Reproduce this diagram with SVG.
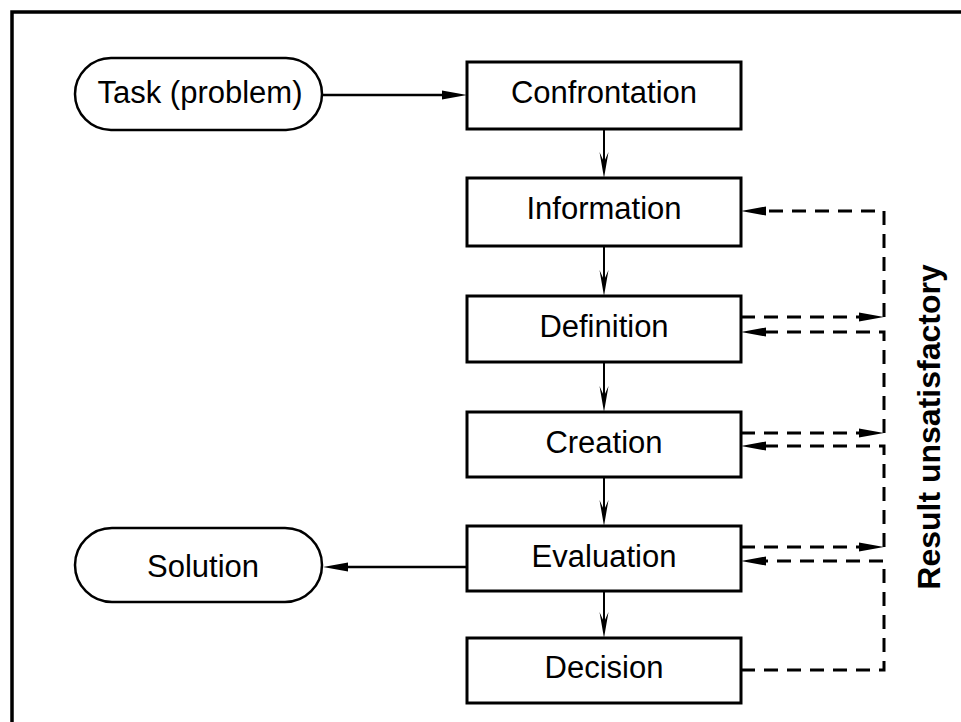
<svg xmlns="http://www.w3.org/2000/svg" width="961" height="722" viewBox="0 0 961 722">
<style>
.box{fill:#fff;stroke:#000;stroke-width:3}
.stad{fill:#fff;stroke:#000;stroke-width:2.5}
.lbl{font-family:"Liberation Sans",Arial,sans-serif;font-size:31px;fill:#000;text-anchor:middle}
.side{font-family:"Liberation Sans",Arial,sans-serif;font-size:32px;font-weight:bold;fill:#000;text-anchor:middle}
.solid{fill:none;stroke:#000;stroke-width:2.5}
.vert{fill:none;stroke:#000;stroke-width:2}
.dash{fill:none;stroke:#000;stroke-width:3;stroke-dasharray:14 9}
</style>
<defs>
<marker id="tri" markerUnits="userSpaceOnUse" markerWidth="28" markerHeight="12" viewBox="-27 -6 28 12" refX="-20" refY="0" orient="auto">
<path d="M0,0 L-25,-4.5 L-25,4.5 Z" fill="#000"/>
</marker>
<marker id="barb" markerUnits="userSpaceOnUse" markerWidth="28" markerHeight="12" viewBox="-27 -6 28 12" refX="-16" refY="0" orient="auto">
<path d="M0,0 L-26,-4.5 L-16,0 L-26,4.5 Z" fill="#000"/>
</marker>
</defs>
<rect width="961" height="722" fill="#fff"/>
<path d="M12,722 V12 H961" fill="none" stroke="#000" stroke-width="3.5"/>
<g id="connectors">
<path class="solid" d="M322,95 H447" marker-end="url(#tri)"/>
<path class="solid" d="M467,567 H343" marker-end="url(#tri)"/>
<path class="vert" d="M604,129 V162" marker-end="url(#barb)"/>
<path class="vert" d="M604,246 V280" marker-end="url(#barb)"/>
<path class="vert" d="M604,362 V396" marker-end="url(#barb)"/>
<path class="vert" d="M604,477 V510" marker-end="url(#barb)"/>
<path class="vert" d="M604,591 V622" marker-end="url(#barb)"/>
<path class="dash" d="M741,317 H864" marker-end="url(#tri)"/>
<path class="dash" d="M884,317 V211 H761" marker-end="url(#tri)"/>
<path class="dash" d="M741,433 H864" marker-end="url(#tri)"/>
<path class="dash" d="M884,433 V332 H761" marker-end="url(#tri)"/>
<path class="dash" d="M741,547 H864" marker-end="url(#tri)"/>
<path class="dash" d="M884,547 V446 H761" marker-end="url(#tri)"/>
<path class="dash" d="M741,670 H884 V561 H761" marker-end="url(#tri)"/>
</g>
<g id="task"><rect class="stad" x="75" y="58" width="247" height="72" rx="36"/><text class="lbl" x="200" y="103">Task (problem)</text></g>
<g id="solution"><rect class="stad" x="75" y="528" width="247" height="74" rx="37"/><text class="lbl" x="203" y="577">Solution</text></g>
<g id="confrontation"><rect class="box" x="467" y="62" width="274" height="67"/><text class="lbl" x="604" y="103">Confrontation</text></g>
<g id="information"><rect class="box" x="467" y="178" width="274" height="68"/><text class="lbl" x="604" y="219">Information</text></g>
<g id="definition"><rect class="box" x="467" y="296" width="274" height="66"/><text class="lbl" x="604" y="337">Definition</text></g>
<g id="creation"><rect class="box" x="467" y="412" width="274" height="65"/><text class="lbl" x="604" y="453">Creation</text></g>
<g id="evaluation"><rect class="box" x="467" y="526" width="274" height="65"/><text class="lbl" x="604" y="567">Evaluation</text></g>
<g id="decision"><rect class="box" x="467" y="638" width="274" height="65"/><text class="lbl" x="604" y="678">Decision</text></g>
<g id="result-label"><text class="side" x="940" y="427" transform="rotate(-90 940 427)">Result unsatisfactory</text></g>
</svg>
